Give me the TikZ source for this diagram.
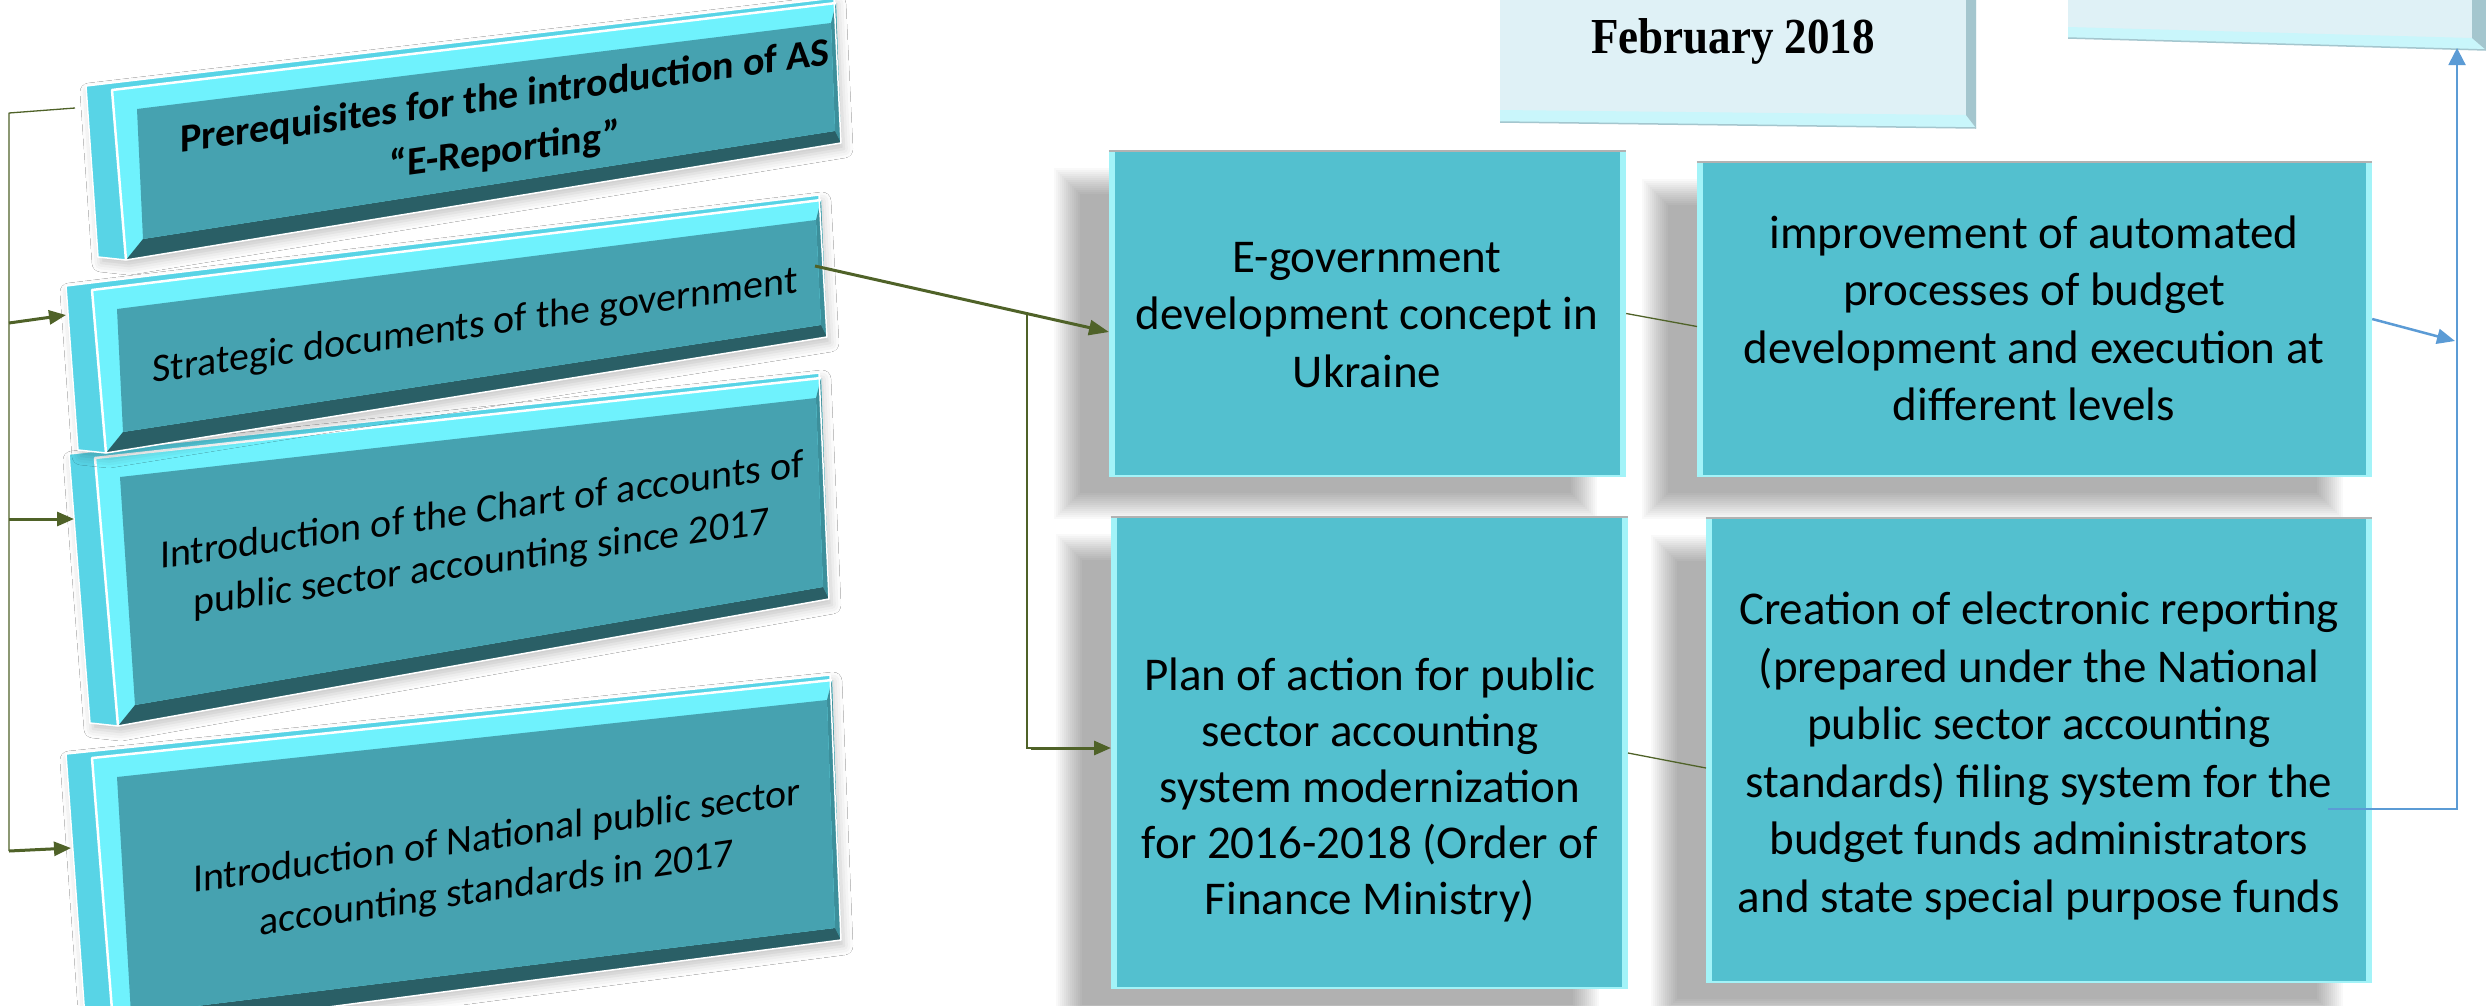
\documentclass[tikz,border=0pt]{standalone}
\usepackage{fontspec}
\setmainfont{Carlito}
\newfontfamily\timesfont{Liberation Serif}
\usetikzlibrary{arrows.meta,shadows.blur,calc}

\definecolor{lside}{HTML}{58D4E6}
\definecolor{lbev}{HTML}{6FF2FD}
\definecolor{lface}{HTML}{46A2B0}
\definecolor{ldark}{HTML}{2A5F66}
\definecolor{lright}{HTML}{3C8F9B}
\definecolor{midc}{HTML}{53C0CF}
\definecolor{midbev}{HTML}{A3F3F8}
\definecolor{topface}{HTML}{DFF1F6}
\definecolor{topbev}{HTML}{C9F6FB}
\definecolor{topside}{HTML}{A4C6CE}
\definecolor{grn}{HTML}{4F6228}
\definecolor{blu}{HTML}{5B9BD5}

\newcommand\LBox[8]{%
  \fill[lside, blur shadow={shadow xshift=3pt, shadow yshift=-6pt, shadow blur radius=9pt, shadow opacity=22}]
    ({#1-26},{#2-4}) -- ({#3-2},{#4-5}) -- (#5,#6) -- (#7,#8) -- ({#7-28},{#8-3}) -- cycle;
  \fill[lbev] (#1,#2) -- (#3,#4) -- (#5,#6) -- (#7,#8) -- cycle;
  \fill[lright] (#3,#4) -- (#5,#6) -- ({#5-6},{#6-12}) -- ({#3-5},{#4+20}) -- cycle;
  \fill[ldark] (#7,#8) -- (#5,#6) -- ({#5-6},{#6-12}) -- ({#7+17},{#8-21}) -- cycle;
  \fill[lface] ({#1+25},{#2+19}) -- ({#3-5},{#4+20}) -- ({#5-6},{#6-12}) -- ({#7+17},{#8-21}) -- cycle;
  \draw[white, line width=2.5pt, line join=round] (#7,#8) -- (#1,#2) -- (#3,#4);
  \draw[white, line width=1.5pt, line join=round] ({#1-26},{#2-4}) -- ({#3-2},{#4-5}) -- (#5,#6) -- (#7,#8) -- ({#7-28},{#8-3}) -- cycle;
}

% soft shadow: x-left, y-top, x-right, y-bottom of the box; shadow offset (-42,+30)
\newcommand\MidShadow[4]{%
  \foreach \k in {0,2,...,26}{%
    \fill[black, opacity=0.024]
      ({#1-42-13+\k},{#2+30-13+\k}) rectangle ({#3-42+13-\k},{#4+30+13-\k});
  }%
}

\newcommand\MidBevel[1]{%
  \fill[midbev] (#1.north west) rectangle ($(#1.south west)+(6,0)$);
  \fill[midbev] ($(#1.north east)+(-6,0)$) rectangle (#1.south east);
  \draw[black!30, line width=2pt] (#1.north west) -- (#1.north east);
  \draw[midbev, line width=2pt] (#1.south west) -- (#1.south east);
}

\begin{document}
\begin{tikzpicture}[x=1pt,y=-1pt,
  ltext/.style={inner sep=0pt, align=center, transform shape, font=\fontsize{40}{52}\selectfont},
  mtext/.style={inner sep=0pt, align=center, font=\fontsize{47}{57.5}\selectfont},
  midbox/.style={fill=midc, draw=none, inner sep=0pt},
  garrow/.style={grn, line width=3pt, -{Triangle[length=17pt,width=14pt]}},
  gline/.style={grn, line width=1.3pt},
  barrow/.style={blu, line width=2.5pt, -{Triangle[length=18pt,width=15pt]}},
  bline/.style={blu, line width=2pt}
]
\useasboundingbox (0,0) rectangle (2486,1005);
\fill[white] (0,0) rectangle (2486,1005);

% ---------- top boxes ----------
\fill[topface] (1500,-10) -- (1976,-10) -- (1976,128) -- (1500,122) -- cycle;
\fill[topbev] (1500,110) -- (1966,115) -- (1976,128) -- (1500,122) -- cycle;
\fill[topside] (1966,-10) -- (1976,-10) -- (1976,128) -- (1966,115) -- cycle;
\draw[topside, line width=1.5pt] (1500,122) -- (1976,128);
\node[font=\timesfont\bfseries\fontsize{45}{50}\selectfont, anchor=base, inner sep=0pt] (feb) at (1733,53) {\scalebox{1}[1.12]{February 2018}};

\fill[topface] (2068,-10) -- (2486,-10) -- (2486,50) -- (2068,38) -- cycle;
\fill[topbev] (2068,27) -- (2472,38) -- (2486,50) -- (2068,38) -- cycle;
\fill[topside] (2472,-10) -- (2486,-10) -- (2486,50) -- (2472,38) -- cycle;
\draw[topside, line width=1.5pt] (2068,38) -- (2486,50);
\coordinate (trbot) at (2457,48);

% ---------- left 3D boxes ----------
\LBox{92}{758}{832}{680}{841}{940}{114}{1035}
\begin{scope}[shift={(497,864)}, yslant=0.146]
  \node[ltext] (t4) at (0,0) {Introduction of National public sector\\accounting standards in 2017};
\end{scope}

\LBox{95}{458}{821}{378}{829}{599}{118}{726}
\begin{scope}[shift={(482,538)}, yslant=0.143]
  \node[ltext] (t3) at (0,0) {Introduction of the Chart of accounts of\\public sector accounting since 2017};
\end{scope}

\LBox{92}{290}{821}{200}{827}{337}{106}{453}
\begin{scope}[shift={(475,327)}, yslant=0.14]
  \node[ltext] (t2) at (0,0) {Strategic documents of the government};
\end{scope}

\LBox{112}{90}{836}{3}{841}{143}{126}{260}
\begin{scope}[shift={(505,125)}, yslant=0.135]
  \node[ltext, font=\bfseries\fontsize{40}{54}\selectfont] (t1) at (0,0) {Prerequisites for the introduction of AS\\“E-Reporting”};
\end{scope}

\coordinate (b1in) at (75,108);
\coordinate (b2in) at (66,315);
\coordinate (b3in) at (74,519);
\coordinate (b4in) at (71,848);
\coordinate (b2out) at (815,266);

% ---------- middle boxes ----------
\MidShadow{1109}{151}{1626}{476}
\MidShadow{1697}{162}{2372}{476}
\MidShadow{1111}{517}{1628}{988}
\MidShadow{1706}{518}{2372}{982}
\node[midbox, minimum width=517pt, minimum height=325pt] (egov) at (1367.5,313.5) {};
\node[midbox, minimum width=675pt, minimum height=314pt] (impr) at (2034.5,319) {};
\node[midbox, minimum width=517pt, minimum height=471pt] (plan) at (1369.5,752.5) {};
\node[midbox, minimum width=666pt, minimum height=464pt] (crea) at (2039,750) {};
\MidBevel{egov}\MidBevel{impr}\MidBevel{plan}\MidBevel{crea}

\node[mtext] (egovt) at (1367,315) {E-government\\development concept in\\Ukraine};
\node[mtext] (imprt) at (2034,318.5) {improvement of automated\\processes of budget\\development and execution at\\different levels};
\node[mtext, font=\fontsize{47}{56}\selectfont] (plant) at (1370,790) {Plan of action for public\\sector accounting\\system modernization\\for 2016-2018 (Order of\\Finance Ministry)};
\node[mtext] (creat) at (2039,756) {Creation of electronic reporting\\(prepared under the National\\public sector accounting\\standards) filing system for the\\budget funds administrators\\and state special purpose funds};

% ---------- green connectors ----------
\coordinate (rtop) at (9,113);
\coordinate (r2) at (9,323);
\coordinate (r3) at (9,519);
\coordinate (r4) at (9,851);
\draw[gline, line join=round] (r4) -- (rtop) -- (b1in);
\draw[garrow] (r2) -- (b2in);
\draw[garrow] (r3) -- (b3in);
\draw[garrow] (r4) -- (b4in);

\coordinate (egovin) at (1109,332);
\coordinate (br) at (1027,313.6);
\coordinate (planin) at (1111,748);
\draw[garrow, -{Triangle[length=20pt,width=15pt]}] (b2out) -- (egovin);
\draw[gline, line width=1.5pt] (br) |- ($(planin)+(-15,0)$);
\draw[garrow] ($(planin)+(-80,0)$) -- (planin);

\coordinate (impin) at (1697,326.5);
\coordinate (creain) at (1706,768);
\draw[gline] (egov.east) -- (impin);
\draw[gline] (1628,753) -- (creain);

% ---------- blue connectors ----------
\coordinate (rail) at (2457,809);
\coordinate (crout) at (2328,809);
\coordinate (railhit) at (2455,341);
\draw[bline, -{Triangle[length=17pt,width=17pt]}] (crout) -- (rail) -- (trbot);
\draw[barrow] (impr.east) -- (railhit);
\end{tikzpicture}
\end{document}
